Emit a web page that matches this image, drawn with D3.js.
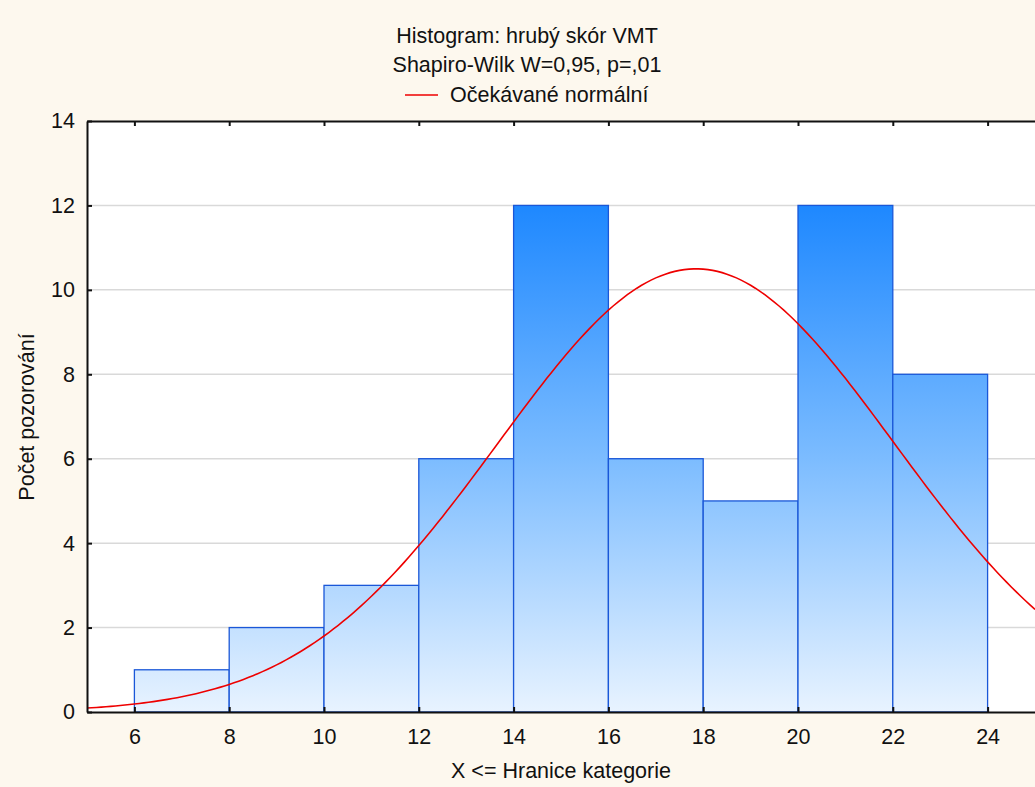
<!DOCTYPE html>
<html>
<head>
<meta charset="utf-8">
<script src="https://cdn.jsdelivr.net/npm/d3@7"></script>
<style>
  body { margin: 0; background: #fdf8ee; }
  svg { display: block; font-family: "Liberation Sans", Arial, sans-serif; }
</style>
</head>
<body>
<script>

// bins (lower / upper bounds) and counts
var binStarts = [6, 8, 10, 12, 14, 16, 18, 20, 22]
var binEnds   = [8, 10, 12, 14, 16, 18, 20, 22, 24]
var counts    = [1, 2, 3, 6, 12, 6, 5, 12, 8]
var xTicks = [6, 8, 10, 12, 14, 16, 18, 20, 22, 24]
var yTicks = [0, 2, 4, 6, 8, 10, 12, 14]

// expected normal fit
var fitMean = 17.85
var fitSd = 4.18
var nObs = 55
var binWidth = 2

var width = 1035, height = 787
var fontSize = 21.5

var svg = d3.select("body").append("svg")
    .attr("width", width)
    .attr("height", height)

var x = d3.scaleLinear().domain([5, 25]).range([87, 1035])
var y = d3.scaleLinear().domain([0, 14]).range([712, 121])

// gradient for the bars
var grad = svg.append("defs").append("linearGradient")
    .attr("id", "barGrad")
    .attr("gradientUnits", "userSpaceOnUse")
    .attr("x1", 0).attr("x2", 0)
    .attr("y1", y(12)).attr("y2", y(0))
grad.append("stop").attr("offset", "0%").attr("stop-color", "#1e88ff")
grad.append("stop").attr("offset", "50%").attr("stop-color", "#7cbcff")
grad.append("stop").attr("offset", "100%").attr("stop-color", "#e8f3ff")

// plot area
svg.append("rect")
    .attr("x", x(5)).attr("y", y(14))
    .attr("width", x(25) - x(5)).attr("height", y(0) - y(14))
    .attr("fill", "white")

// gridlines
svg.append("g").selectAll("line")
    .data(yTicks.filter(function(d){ return d > 0 && d < 14 }))
  .enter().append("line")
    .attr("x1", x(5)).attr("x2", x(25))
    .attr("y1", function(d){ return y(d) }).attr("y2", function(d){ return y(d) })
    .attr("stroke", "#d9d9d9")
    .attr("stroke-width", 1.5)

// bars
svg.append("g").selectAll("rect")
    .data(counts)
  .enter().append("rect")
    .attr("x", function(d, i){ return x(binStarts[i]) })
    .attr("y", function(d){ return y(d) })
    .attr("width", function(d, i){ return x(binEnds[i]) - x(binStarts[i]) })
    .attr("height", function(d){ return y(0) - y(d) })
    .attr("fill", "url(#barGrad)")
    .attr("stroke", "#1a57d8")
    .attr("stroke-width", 1.3)

// normal curve
var curvePts = d3.range(5, 25.01, 0.1).map(function(v){
  var z = (v - fitMean) / fitSd
  return [v, nObs * binWidth * Math.exp(-0.5 * z * z) / (fitSd * Math.sqrt(2 * Math.PI))]
})
svg.append("path")
    .datum(curvePts)
    .attr("fill", "none")
    .attr("stroke", "#ee0000")
    .attr("stroke-width", 1.6)
    .attr("d", d3.line()
      .x(function(d){ return x(d[0]) })
      .y(function(d){ return y(d[1]) }))

// axes
var bottomAxis = d3.axisBottom(x).tickValues(xTicks).tickSizeInner(-5).tickSizeOuter(0).tickPadding(17)
var topAxis = d3.axisTop(x).tickValues(xTicks).tickSizeInner(-5).tickSizeOuter(0).tickFormat("")
var leftAxis = d3.axisLeft(y).tickValues(yTicks).tickSizeInner(-5).tickSizeOuter(0).tickPadding(12)

function styleAxis(g) {
  g.attr("font-size", fontSize).attr("font-family", "Liberation Sans, Arial, sans-serif")
  g.select(".domain").attr("stroke", "#111").attr("stroke-width", 2)
  g.selectAll(".tick line").attr("stroke", "#111").attr("stroke-width", 2)
  g.selectAll(".tick text").attr("fill", "#111")
}

svg.append("g").attr("transform", "translate(0," + y(0) + ")").call(bottomAxis).call(styleAxis)
svg.append("g").attr("transform", "translate(0," + y(14) + ")").call(topAxis).call(styleAxis)
svg.append("g").attr("transform", "translate(" + x(5) + ",0)").call(leftAxis).call(styleAxis)

// titles
svg.append("text").attr("x", 527).attr("y", 43).attr("text-anchor", "middle")
    .attr("font-size", fontSize).attr("fill", "#111").text("Histogram: hrubý skór VMT")
svg.append("text").attr("x", 527).attr("y", 72).attr("text-anchor", "middle")
    .attr("font-size", fontSize).attr("fill", "#111").text("Shapiro-Wilk W=0,95, p=,01")

// legend
svg.append("line").attr("x1", 405).attr("x2", 438).attr("y1", 95).attr("y2", 95)
    .attr("stroke", "#ee0000").attr("stroke-width", 1.6)
svg.append("text").attr("x", 450).attr("y", 102)
    .attr("font-size", fontSize).attr("fill", "#111").text("Očekávané normální")

// axis titles
svg.append("text").attr("x", 561).attr("y", 778).attr("text-anchor", "middle")
    .attr("font-size", fontSize).attr("fill", "#111").text("X <= Hranice kategorie")
svg.append("text")
    .attr("transform", "translate(34,417) rotate(-90)")
    .attr("text-anchor", "middle")
    .attr("font-size", fontSize).attr("fill", "#111").text("Počet pozorování")

</script>
</body>
</html>
